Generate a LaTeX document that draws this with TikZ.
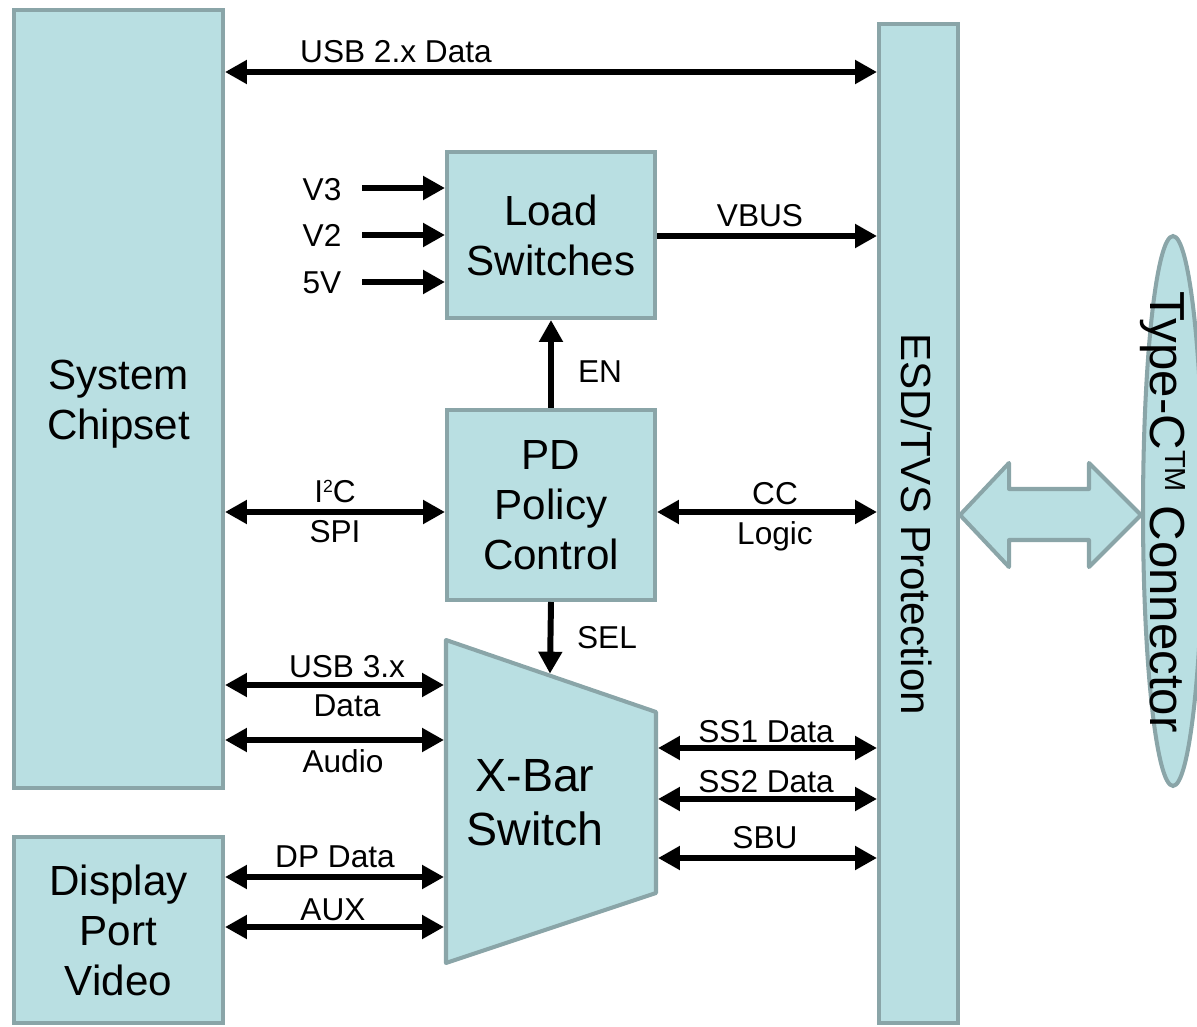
\documentclass[tikz,border=0pt]{standalone}
\usepackage{fontspec}
\setmainfont{Liberation Sans}
\usetikzlibrary{arrows.meta,shapes.geometric,calc}
\definecolor{boxfill}{HTML}{B9DFE2}
\definecolor{boxline}{HTML}{8AA5A8}

\begin{document}
\begin{tikzpicture}[x=0.02cm,y=-0.02cm,
  blk/.style={draw=boxline, fill=boxfill, line width=2.3pt, inner sep=0pt,
    font=\fontsize{24}{28.5}\selectfont, align=center},
  big/.style={font=\fontsize{24}{28.5}\selectfont, align=center, inner sep=0pt},
  lbl/.style={font=\fontsize{18}{22}\selectfont, inner sep=0pt,
    text height=0.72em, text depth=0pt, yshift=-0.08cm},
  sig/.style={line width=3.4pt, -{Triangle[length=12.5pt,width=13pt]}},
  bus/.style={line width=3.4pt, {Triangle[length=12.5pt,width=13pt]}-{Triangle[length=12.5pt,width=13pt]}},
]
\useasboundingbox (0,0) rectangle (1197,1027);

% main blocks
\node[blk, minimum width=4.18cm, minimum height=15.56cm] (sys) at (118.5,399) {};
\node[big] (syst) at (118.5,404) {System\\Chipset};
\node[blk, minimum width=4.18cm, minimum height=3.72cm] (dp) at (118.5,930) {Display\\Port\\Video};
\node[blk, minimum width=1.58cm, minimum height=19.98cm] (esd) at (918.5,523.5) {};
\node[big, rotate=-90] (esdt) at (917,524) {ESD/TVS Protection};
\node[blk, minimum width=4.16cm, minimum height=3.32cm] (load) at (551,235) {Load\\Switches};
\node[blk, minimum width=4.16cm, minimum height=3.8cm] (pd) at (551,505) {PD\\Policy\\Control};

% crossbar switch (trapezoid)
\coordinate (xtl) at (446,640);
\coordinate (xtr) at (656,712);
\coordinate (xbr) at (656,893);
\coordinate (xbl) at (446,963);
\draw[draw=boxline, fill=boxfill, line width=2.3pt, line join=round]
  (xtl) -- (xtr) -- (xbr) -- (xbl) -- cycle;
\node[big, font=\fontsize{26.5}{30.7}\selectfont] (xbar) at (535,803) {X-Bar\\Switch};
\coordinate (xl) at (444,0);
\coordinate (xr) at (658,0);

% Type-C connector
\node[blk, ellipse, minimum width=1.2cm, minimum height=11cm] (tc) at (1173,511) {};
\node[big, rotate=-90, font=\fontsize{28}{30}\selectfont, text height=20pt, text depth=0pt]
  (tct) at (1168,512) {Type-C\raisebox{8.4pt}{\fontsize{16.5}{16.5}\selectfont TM} Connector};

% wide double arrow between protection and connector
\coordinate (ba) at (esd.east |- 0,515);
\coordinate (bb) at (tc.west |- ba);
\draw[draw=boxline, fill=boxfill, line width=2.3pt, line join=round]
  (ba) -- ($(ba)+(49,-52)$) -- ($(ba)+(49,-26)$) -- ($(bb)+(-52,-26)$)
  -- ($(bb)+(-52,-52)$) -- (bb) -- ($(bb)+(-52,52)$) -- ($(bb)+(-52,25)$)
  -- ($(ba)+(49,25)$) -- ($(ba)+(49,52)$) -- cycle;

% USB 2.x
\draw[bus] (sys.east |- 0,72) -- (esd.west |- 0,72);
\node[lbl] (lusb2) at (396,52) {USB 2.x Data};

% supply inputs
\coordinate (v3s) at (362,188);
\coordinate (v2s) at (362,235);
\coordinate (v5s) at (362,282);
\draw[sig] (v3s) -- (load.west |- v3s);
\draw[sig] (v2s) -- (load.west |- v2s);
\draw[sig] (v5s) -- (load.west |- v5s);
\node[lbl] (lv3) at (322,190) {V3};
\node[lbl] (lv2) at (322,236) {V2};
\node[lbl] (lv5) at (322,283) {5V};

% VBUS
\draw[sig] (load.east |- 0,236) -- (esd.west |- 0,236);
\node[lbl] (lvbus) at (760,216) {VBUS};

% enable
\draw[sig] (pd.north) -- (load.south);
\node[lbl] (len) at (600,372) {EN};

% I2C / SPI
\draw[bus] (sys.east |- 0,512) -- (pd.west |- 0,512);
\node[lbl] (li2c) at (335,492) {I\raisebox{5.7pt}{\fontsize{10}{10}\selectfont 2}C};
\node[lbl] (lspi) at (335,532) {SPI};

% CC
\draw[bus] (pd.east |- 0,512) -- (esd.west |- 0,512);
\node[lbl] (lcc) at (775,494) {CC};
\node[lbl] (llogic) at (775,534) {Logic};

% select
\coordinate (selend) at ($(xtl)!0.495!(xtr)+(0,-2)$);
\draw[sig] (pd.south) -- (selend);
\node[lbl] (lsel) at (607,638) {SEL};

% chipset to crossbar
\draw[bus] (sys.east |- 0,685) -- (xl |- 0,685);
\node[lbl] (lusb3) at (347,667) {USB 3.x};
\node[lbl] (lusb3b) at (347,706) {Data};
\draw[bus] (sys.east |- 0,740) -- (xl |- 0,740);
\node[lbl] (laudio) at (343,762) {Audio};

% display port to crossbar
\draw[bus] (dp.east |- 0,877) -- (xl |- 0,877);
\node[lbl] (ldp) at (335,857) {DP Data};
\draw[bus] (dp.east |- 0,927) -- (xl |- 0,927);
\node[lbl] (laux) at (333,910) {AUX};

% crossbar to protection
\draw[bus] (xr |- 0,748) -- (esd.west |- 0,748);
\node[lbl] (lss1) at (766,732) {SS1 Data};
\draw[bus] (xr |- 0,799) -- (esd.west |- 0,799);
\node[lbl] (lss2) at (766,782) {SS2 Data};
\draw[bus] (xr |- 0,858) -- (esd.west |- 0,858);
\node[lbl] (lsbu) at (765,838) {SBU};
\end{tikzpicture}
\end{document}
